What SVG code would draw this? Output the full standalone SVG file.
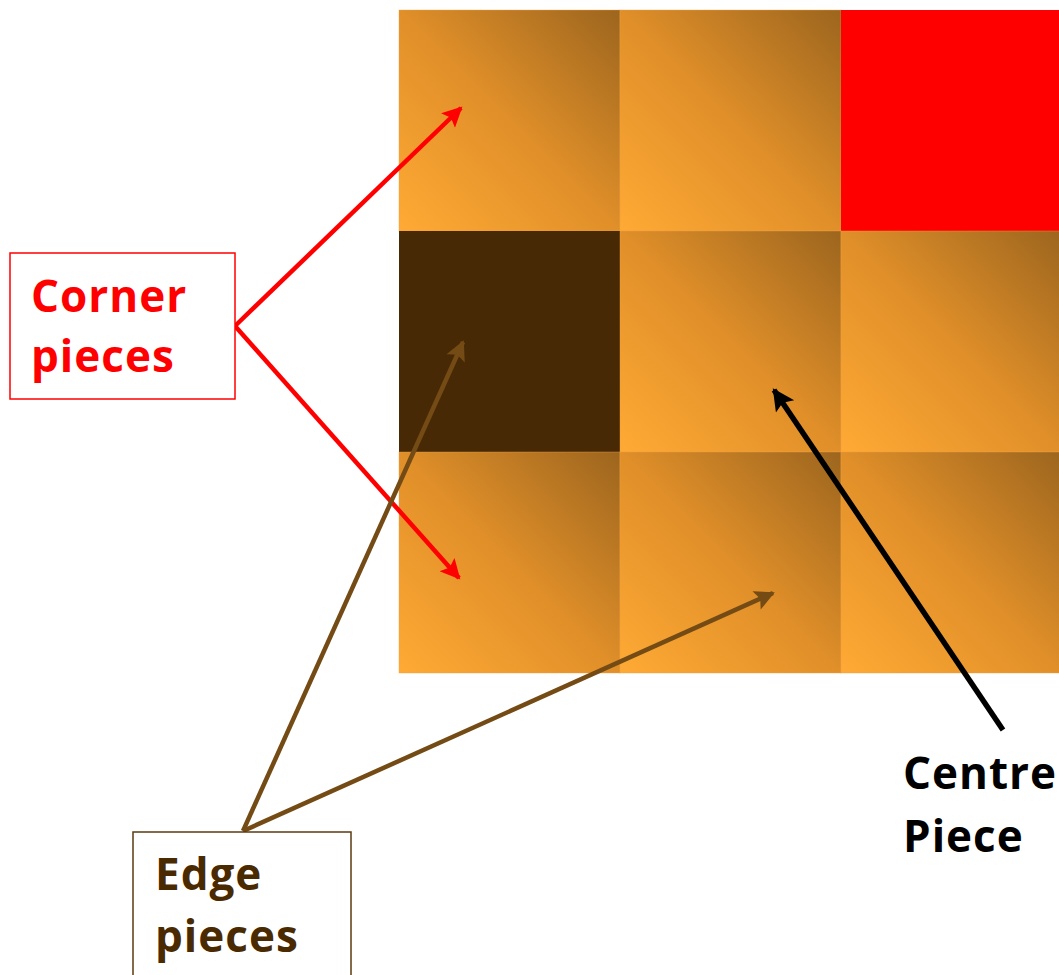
<svg xmlns="http://www.w3.org/2000/svg" width="1059" height="975" viewBox="0 0 1059 975">
<defs>
<linearGradient id="og" x1="0" y1="1" x2="1" y2="0">
<stop offset="0" stop-color="#FFAA35"/>
<stop offset="0.5" stop-color="#E08F29"/>
<stop offset="1" stop-color="#9C651E"/>
</linearGradient>
<marker id="ar" viewBox="0 0 10 10" refX="9" refY="5" markerWidth="24" markerHeight="20" markerUnits="userSpaceOnUse" orient="auto"><path d="M0,0 L10,5 L0,10 L2,5 Z" fill="#FF0000"/></marker>
<marker id="ab" viewBox="0 0 10 10" refX="9" refY="5" markerWidth="24" markerHeight="20" markerUnits="userSpaceOnUse" orient="auto"><path d="M0,0 L10,5 L0,10 L2,5 Z" fill="#744B14"/></marker>
<marker id="ak" viewBox="0 0 10 10" refX="9" refY="5" markerWidth="26" markerHeight="22" markerUnits="userSpaceOnUse" orient="auto"><path d="M0,0 L10,5 L0,10 L2,5 Z" fill="#000"/></marker>
</defs>
<style>
.cell{fill:url(#og);stroke:#F0A040;stroke-opacity:0.4;stroke-width:1}
.lbl{font-family:"Open Sans","Noto Sans",sans-serif;font-weight:700;font-size:44px;letter-spacing:1px}
</style>
<rect width="1059" height="975" fill="#fff"/>
<g id="grid">
<rect class="cell" x="399" y="10" width="221" height="221"/>
<rect class="cell" x="620" y="10" width="221" height="221"/>
<rect x="841" y="10" width="221" height="221" fill="#FF0000"/>
<rect x="399" y="231" width="221" height="221" fill="#472906"/>
<rect class="cell" x="620" y="231" width="221" height="221"/>
<rect class="cell" x="841" y="231" width="221" height="221"/>
<rect class="cell" x="399" y="452" width="221" height="221"/>
<rect class="cell" x="620" y="452" width="221" height="221"/>
<rect class="cell" x="841" y="452" width="221" height="221"/>
</g>
<g id="connectors" fill="none">
<line x1="235" y1="326" x2="461" y2="108" stroke="#FF0000" stroke-width="4.5" marker-end="url(#ar)"/>
<line x1="235" y1="326" x2="459" y2="578" stroke="#FF0000" stroke-width="4.5" marker-end="url(#ar)"/>
<line x1="243" y1="831" x2="463" y2="342" stroke="#744B14" stroke-width="4.5" marker-end="url(#ab)"/>
<line x1="243" y1="831" x2="773" y2="593" stroke="#744B14" stroke-width="4.5" marker-end="url(#ab)"/>
<line x1="1003" y1="730" x2="774" y2="390" stroke="#000" stroke-width="5.5" marker-end="url(#ak)"/>
</g>
<g id="corner-label">
<rect x="10" y="253" width="225" height="146" fill="#fff" stroke="#FF0000" stroke-width="1.5"/>
<text class="lbl" fill="#FF0000"><tspan x="31" y="312">Corner</tspan><tspan x="31" y="372">pieces</tspan></text>
</g>
<g id="edge-label">
<rect x="133" y="832" width="218" height="160" fill="#fff" stroke="#5A3A10" stroke-width="1.5"/>
<text class="lbl" fill="#4A2A00"><tspan x="155" y="890">Edge</tspan><tspan x="155" y="952">pieces</tspan></text>
</g>
<g id="centre-label">
<text class="lbl" fill="#000"><tspan x="903" y="789">Centre</tspan><tspan x="903" y="852">Piece</tspan></text>
</g>
</svg>
